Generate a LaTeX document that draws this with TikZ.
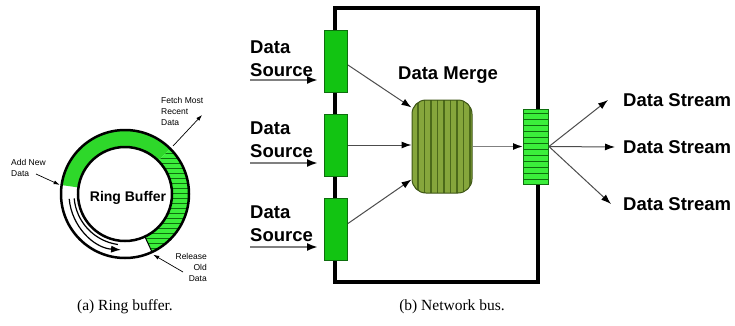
\documentclass[tikz,border=0pt]{standalone}
\usepackage{fontspec}
\setmainfont{Liberation Serif}
\newfontfamily\arialfont{Liberation Sans}
\usetikzlibrary{arrows.meta}

\definecolor{srcgreen}{HTML}{12C412}
\definecolor{bufgreen}{HTML}{2ED82A}
\definecolor{barlight}{HTML}{3BEE3B}
\definecolor{bardark}{HTML}{0E6E0E}
\definecolor{olive}{HTML}{86A63C}
\definecolor{olivedark}{HTML}{4C6A1A}

\begin{document}
\begin{tikzpicture}[
    x=1pt, y=1pt,
    font=\arialfont,
    srclbl/.style  = {inner sep=0pt, align=left,
                      font=\arialfont\bfseries\fontsize{18.5}{23}\selectfont},
    buflbl/.style  = {inner sep=0pt, font=\arialfont\fontsize{8.5}{11}\selectfont},
    caption/.style = {inner sep=0pt, font=\rmfamily\fontsize{15.5}{18}\selectfont},
    srcbox/.style  = {draw=bardark, line width=0.9pt, fill=srcgreen,
                      minimum width=23pt, minimum height=62pt, inner sep=0pt},
    mergebox/.style= {draw=olivedark!80!black, line width=1pt, fill=olive,
                      rounded corners=14pt, minimum width=60pt,
                      minimum height=93pt, inner sep=0pt,
                      path picture={
                        \foreach \i in {6,12.5,...,58}
                          \draw[olivedark, line width=1.4pt]
                            ([xshift=\i pt]path picture bounding box.south west) --
                            ([xshift=\i pt]path picture bounding box.north west);}},
    stripbox/.style= {draw=bardark, line width=0.9pt, fill=barlight,
                      minimum width=25pt, minimum height=75pt, inner sep=0pt,
                      path picture={
                        \foreach \j in {5,11,...,72}
                          \draw[bardark, line width=0.9pt]
                            ([yshift=\j pt]path picture bounding box.south west) --
                            ([yshift=\j pt]path picture bounding box.south east);}},
    inarr/.style   = {-{Latex[length=11pt,width=8pt,black]}, draw=gray,
                      line width=2.2pt},
    arr/.style     = {-{Latex[length=10pt,width=7pt,black]}, draw=black!70,
                      line width=1pt},
    garr/.style    = {-{Latex[length=10pt,width=7pt,black]}, draw=gray,
                      line width=1.6pt},
    thinarr/.style = {-{Latex[length=6pt,width=4pt]}, line width=0.7pt},
  ]

  \useasboundingbox (0,0) rectangle (735,325);

  % ring buffer
  \coordinate (rc) at (125,131);
  \fill[bufgreen] ([shift={(rc)}]45:64) arc[start angle=45,end angle=172,radius=64]
    -- ([shift={(rc)}]172:47) arc[start angle=172,end angle=45,radius=47] -- cycle;
  \begin{scope}
    \clip ([shift={(rc)}]-65:64) arc[start angle=-65,end angle=45,radius=64]
      -- ([shift={(rc)}]45:47) arc[start angle=45,end angle=-65,radius=47] -- cycle;
    \fill[barlight] (120,55) rectangle (200,205);
    \foreach \y in {57,62,...,205}
      \draw[bardark, line width=0.8pt] (120,\y) -- (200,\y);
  \end{scope}
  \draw[line width=1pt] ([shift={(rc)}]-65:47) -- ([shift={(rc)}]-65:64);
  \draw[line width=2.5pt] (rc) circle[radius=64];
  \draw[line width=2.5pt] (rc) circle[radius=47];
  \draw[-{Latex[length=10pt,width=7pt]}, line width=1.2pt]
    ([shift={(rc)}]185:56) arc[start angle=185,end angle=266,radius=56];
  \draw[line width=1.2pt]
    ([shift={(rc)}]185:51) arc[start angle=185,end angle=262,radius=51];

  \node[font=\arialfont\bfseries\fontsize{14}{16}\selectfont] (ring) at (128,127) {Ring Buffer};

  \node[buflbl, anchor=west, align=left] (addnew) at (11,157.5) {Add New\\Data};
  \node[buflbl, anchor=west, align=left] (fetch) at (161,213.5) {Fetch Most\\Recent\\Data};
  \node[buflbl, anchor=east, align=right] (release) at (207,57.5) {Release\\Old\\Data};

  \coordinate (addtail) at (36,151);
  \coordinate (addtip) at ([shift={(rc)}]172:66);
  \coordinate (fetchtail) at ([shift={(rc)}]45:68);
  \coordinate (fetchtip) at (202,210);
  \coordinate (reltail) at (183,53);
  \coordinate (reltip) at ([shift={(rc)}]-65:67);

  \draw[thinarr] (addtail) -- (addtip);
  \draw[thinarr] (fetchtail) -- (fetchtip);
  \draw[thinarr] (reltail) -- (reltip);

  % network bus
  \draw[line width=4pt] (335,43) rectangle (538,317);

  \node[srcbox] (src1) at (336,264) {};
  \node[srcbox] (src2) at (336,180) {};
  \node[srcbox] (src3) at (336,95.5) {};
  \node[mergebox] (merge) at (442,178.5) {};
  \node[stripbox] (bar) at (536,178.5) {};

  \node[srclbl, anchor=west] (lbl1) at (250,266.5) {Data\\Source};
  \node[srclbl, anchor=west] (lbl2) at (250,185) {Data\\Source};
  \node[srclbl, anchor=west] (lbl3) at (250,101.5) {Data\\Source};
  \node[srclbl, anchor=center] (mlbl) at (448,250) {Data Merge};
  \node[srclbl, anchor=west] (out1) at (623,225) {Data Stream};
  \node[srclbl, anchor=west] (out2) at (623,178) {Data Stream};
  \node[srclbl, anchor=west] (out3) at (623,121) {Data Stream};

  \coordinate (in1) at (250,245);
  \coordinate (in2) at (250,162);
  \coordinate (in3) at (250,78);

  \draw[inarr, shorten >=6pt] (in1) -- (in1 -| src1.west);
  \draw[inarr, shorten >=6pt] (in2) -- (in2 -| src2.west);
  \draw[inarr, shorten >=6pt] (in3) -- (in3 -| src3.west);

  \draw[arr] ([yshift=-4pt]src1.east) -- ([yshift=-8pt]merge.north west);
  \draw[arr] (src2.east) -- (src2.east -| merge.west);
  \draw[arr] ([yshift=6pt]src3.east) -- ([yshift=14pt]merge.south west);
  \draw[garr] (merge) -- (bar);

  \draw[arr] (bar.east) -- ([xshift=-15pt]out1.west);
  \draw[arr] (bar.east) -- ([xshift=-8pt]out2.west);
  \draw[arr] (bar.east) -- ([xshift=-12pt]out3.west);

  % captions
  \node[caption] (capa) at (125,18) {(a) Ring buffer.};
  \node[caption] (capb) at (452,18) {(b) Network bus.};

\end{tikzpicture}
\end{document}
